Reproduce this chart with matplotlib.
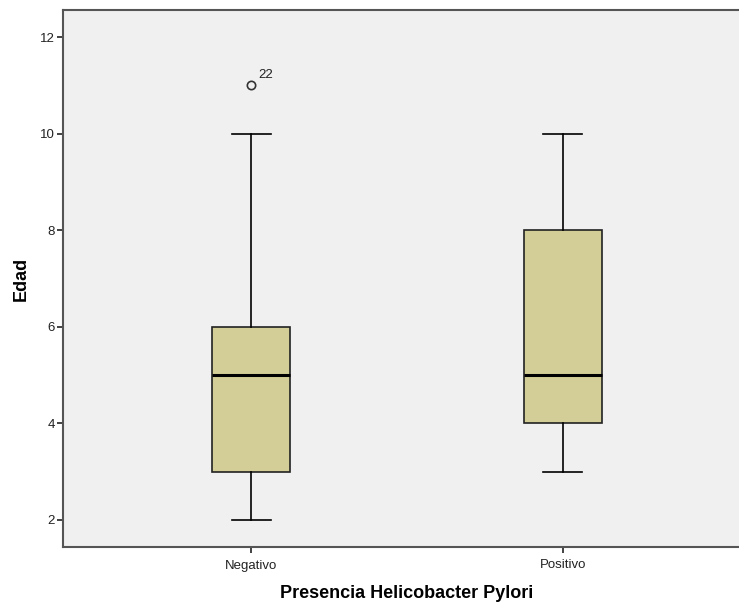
import matplotlib
matplotlib.use("Agg")
import matplotlib.pyplot as plt

plt.rcParams['font.family'] = ['Liberation Sans', 'DejaVu Sans']

categories = ["Negativo", "Positivo"]
whislo = [2, 3]
q1 = [3, 4]
med = [5, 5]
q3 = [6, 8]
whishi = [10, 10]
fliers = [[11], []]
flier_labels = [["22"], []]
yticks = [2, 4, 6, 8, 10, 12]

fig = plt.figure(figsize=(7.39, 6.05), dpi=100)
W, H = 739, 605
ax = fig.add_axes([63 / W, 1 - 547 / H, (751 - 63) / W, (547 - 10) / H])
ax.set_facecolor("#f0f0f0")

stats = []
for i, c in enumerate(categories):
    stats.append(dict(label=c, whislo=whislo[i], q1=q1[i], med=med[i],
                      q3=q3[i], whishi=whishi[i], fliers=fliers[i]))

positions = [1, 2]
ax.bxp(stats, positions=positions, widths=0.25, patch_artist=True,
       showfliers=True,
       boxprops=dict(facecolor="#d3ce97", edgecolor="#222222", linewidth=1.2),
       medianprops=dict(color="black", linewidth=2.2),
       whiskerprops=dict(color="black", linewidth=1.2),
       capprops=dict(color="black", linewidth=1.2),
       capwidths=0.125,
       flierprops=dict(marker="o", markerfacecolor="none", markeredgecolor="#333333",
                       markersize=6, markeredgewidth=1.2))

for i, fl in enumerate(fliers):
    for v, lab in zip(fl, flier_labels[i]):
        ax.annotate(lab, (positions[i], v), xytext=(5, 3), textcoords="offset points",
                    fontsize=9.5, color="#222222", ha="left", va="bottom")

ax.set_xlim(0.397, 2.603)
ax.set_ylim(1.44, 12.56)
ax.set_yticks(yticks)
ax.set_xticks(positions)
ax.set_xticklabels(categories)
ax.tick_params(axis="both", colors="#222222", length=4, width=1.2, direction="out")
ax.tick_params(axis="x", labelsize=9.5, pad=5)
ax.tick_params(axis="y", labelsize=9.5, pad=2)
for s in ax.spines.values():
    s.set_color("#555555")
    s.set_linewidth(1.5)

ax.set_xlabel("Presencia Helicobacter Pylori", fontsize=13, fontweight="bold", labelpad=10)
ax.set_ylabel("Edad", fontsize=13, fontweight="bold", labelpad=7)

fig.savefig("out.png", dpi=100)
